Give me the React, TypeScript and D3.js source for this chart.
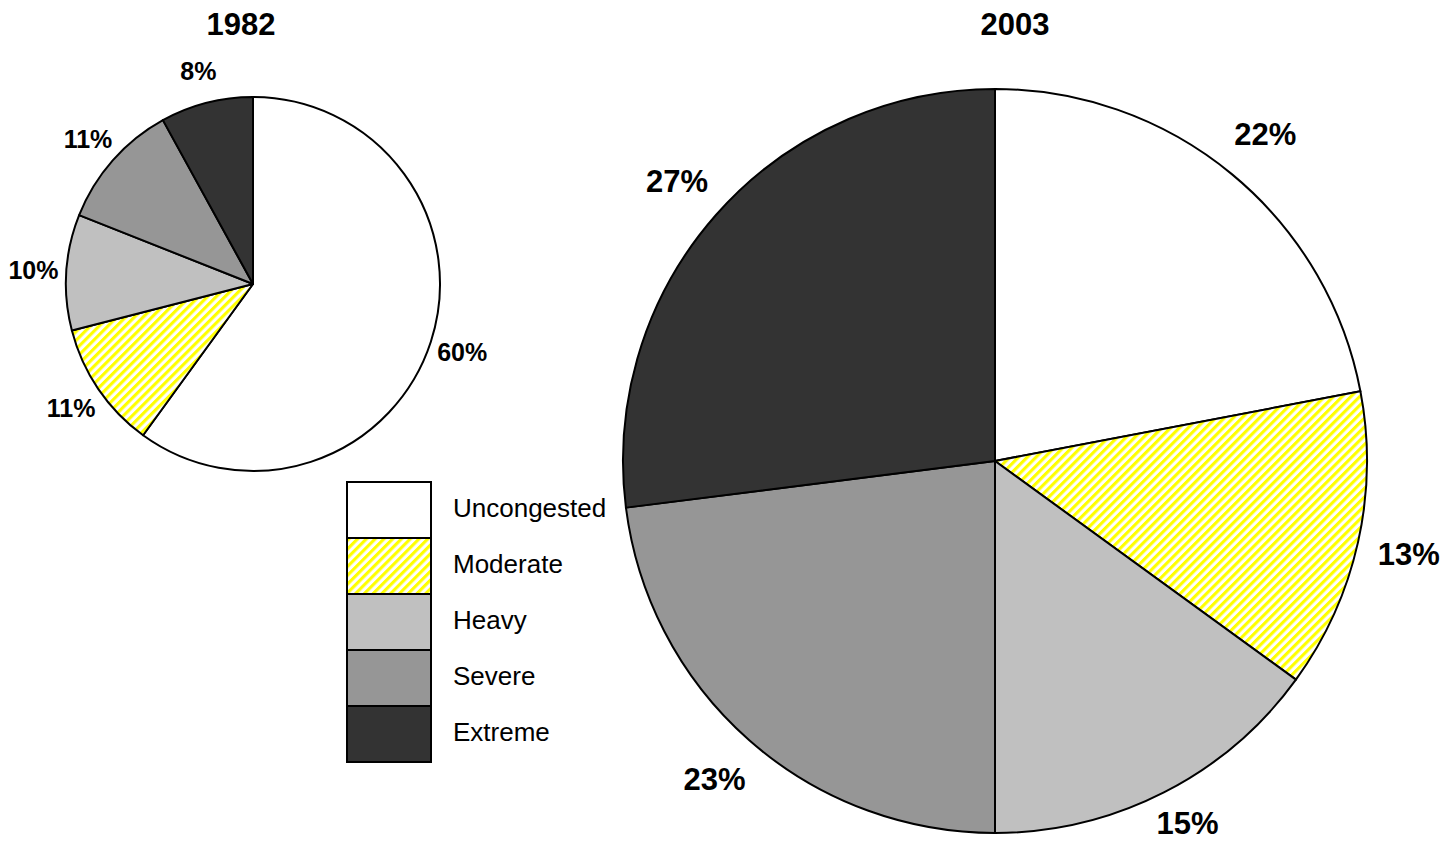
import { useEffect, useRef } from 'react';
import * as d3 from 'd3';

// congestion levels, clockwise from 12 o'clock
const categories = ['Uncongested', 'Moderate', 'Heavy', 'Severe', 'Extreme'];
const years = ['1982', '2003'];
const values1982 = [60, 11, 10, 11, 8];
const values2003 = [22, 13, 15, 23, 27];

const FONT = '"Liberation Sans", Arial, Helvetica, sans-serif';

export default function App() {
  const ref = useRef<SVGSVGElement | null>(null);

  useEffect(() => {
    const svg = d3.select(ref.current);
    svg.selectAll('*').remove();

    const width = 1453;
    const height = 844;

    // yellow diagonal hatch for "Moderate"
    const step = 6.2;
    const defs = svg.append('defs');
    const pat = defs
      .append('pattern')
      .attr('id', 'hatch')
      .attr('patternUnits', 'userSpaceOnUse')
      .attr('width', step)
      .attr('height', step)
      .attr('patternTransform', 'rotate(45)');
    pat.append('rect').attr('width', step).attr('height', step).attr('fill', '#ffffff');
    pat.append('rect').attr('width', step / 2).attr('height', step).attr('fill', '#ffff00');

    const color = d3
      .scaleOrdinal<string, string>()
      .domain(categories)
      .range(['#ffffff', 'url(#hatch)', '#c0c0c0', '#969696', '#333333']);

    const pie = d3
      .pie<number>()
      .sort(null)
      .value((d) => d);

    const charts = [
      { title: years[0], values: values1982, cx: 253, cy: 284, r: 187, labelR: 220, size: 25, titleX: 241 },
      { title: years[1], values: values2003, cx: 995, cy: 461, r: 372, labelR: 424, size: 31, titleX: 1015 },
    ];

    charts.forEach((c) => {
      const g = svg.append('g').attr('transform', `translate(${c.cx},${c.cy})`);
      const arc = d3.arc<d3.PieArcDatum<number>>().innerRadius(0).outerRadius(c.r);
      const labelArc = d3.arc<d3.PieArcDatum<number>>().innerRadius(c.labelR).outerRadius(c.labelR);
      const arcs = pie(c.values);

      g.selectAll('path.slice')
        .data(arcs)
        .enter()
        .append('path')
        .attr('class', 'slice')
        .attr('d', arc)
        .attr('fill', (d, i) => color(categories[i]))
        .attr('stroke', '#000')
        .attr('stroke-width', 2)
        .attr('stroke-linejoin', 'round');

      // keep labels inside the picture
      const maxY = height - c.cy - c.size * 0.6 - 3;

      g.selectAll('text.lbl')
        .data(arcs)
        .enter()
        .append('text')
        .attr('class', 'lbl')
        .attr('transform', (d) => {
          const [x, y] = labelArc.centroid(d);
          return `translate(${x},${Math.min(y, maxY)})`;
        })
        .attr('dy', '0.36em')
        .attr('text-anchor', 'middle')
        .attr('font-family', FONT)
        .attr('font-weight', 'bold')
        .attr('font-size', c.size)
        .text((d) => `${d.data}%`);

      svg
        .append('text')
        .attr('x', c.titleX)
        .attr('y', 35)
        .attr('text-anchor', 'middle')
        .attr('font-family', FONT)
        .attr('font-weight', 'bold')
        .attr('font-size', 31)
        .text(c.title);
    });

    // legend
    const legendX = 347;
    const rows = d3.scaleBand<string>().domain(categories).range([482, 762]).paddingInner(0);
    const lg = svg.append('g');
    lg.selectAll('rect')
      .data(categories)
      .enter()
      .append('rect')
      .attr('x', legendX)
      .attr('y', (d) => rows(d) as number)
      .attr('width', 84)
      .attr('height', rows.bandwidth())
      .attr('fill', (d) => color(d))
      .attr('stroke', '#000')
      .attr('stroke-width', 2);
    lg.selectAll('text')
      .data(categories)
      .enter()
      .append('text')
      .attr('x', 453)
      .attr('y', (d) => (rows(d) as number) + rows.bandwidth() / 2 + 7)
      .attr('font-family', FONT)
      .attr('font-size', 26)
      .attr('fill', '#000')
      .text((d) => d);

    svg.attr('width', width).attr('height', height);
  }, []);

  return (
    <svg
      ref={ref}
      width={1453}
      height={844}
      style={{ position: 'absolute', left: 0, top: 0, background: '#fff', display: 'block' }}
    />
  );
}
